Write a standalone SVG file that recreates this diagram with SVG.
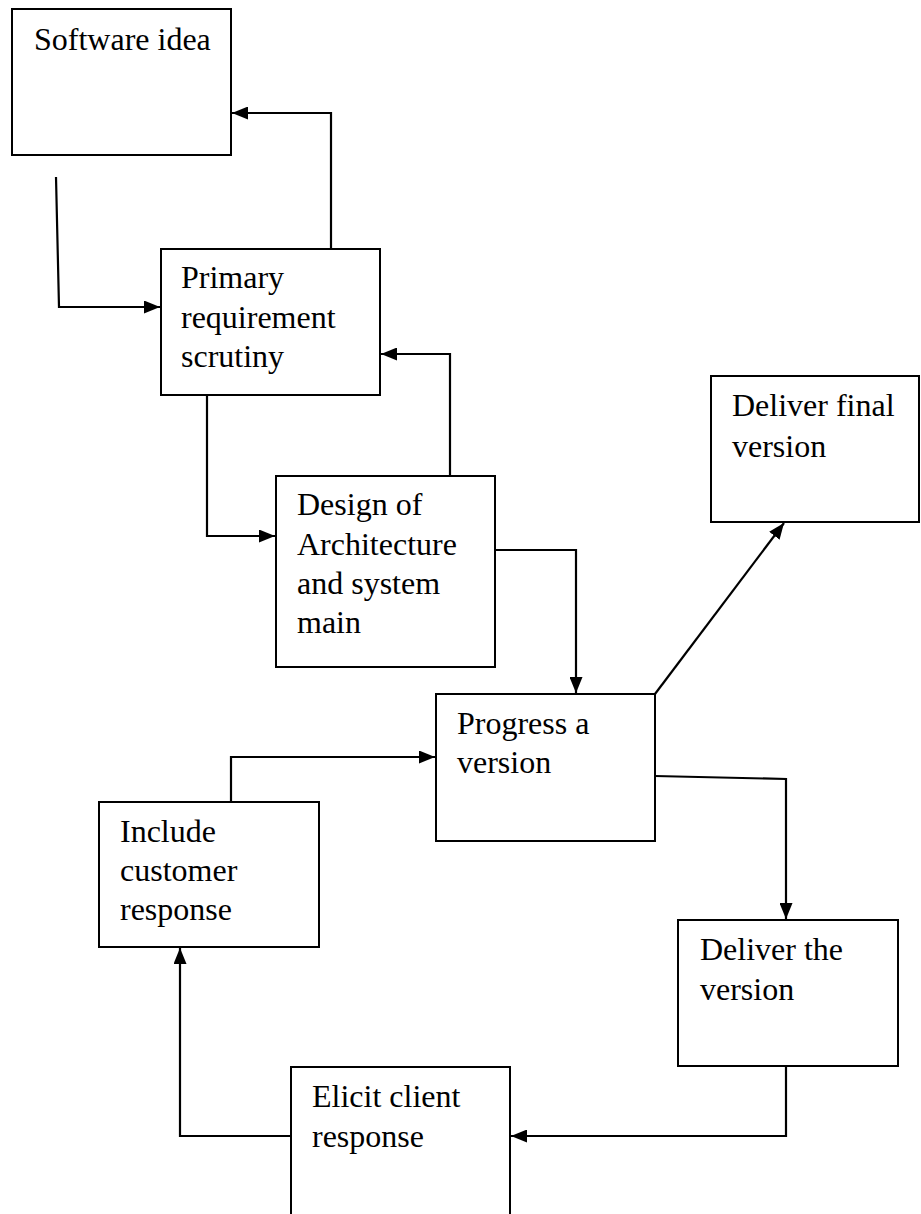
<svg xmlns="http://www.w3.org/2000/svg" width="921" height="1214" viewBox="0 0 921 1214">
<style>
.box{fill:#fff;stroke:#000;stroke-width:2}
.lbl{font-family:"Liberation Serif","Times New Roman",serif;font-size:32px;fill:#000}
.con{fill:none;stroke:#000;stroke-width:2.2}
</style>
<defs>
<marker id="ah" markerUnits="userSpaceOnUse" markerWidth="16" markerHeight="13" refX="16" refY="6.5" orient="auto">
<path d="M0,0 L16,6.5 L0,13 z" fill="#000"/>
</marker>
</defs>
<rect width="921" height="1214" fill="#fff"/>
<g id="n-software-idea">
<rect class="box" x="12" y="9" width="219" height="146"/>
<text class="lbl" x="34" y="50">Software idea</text>
</g>
<g id="n-primary">
<rect class="box" x="161" y="249" width="219" height="146"/>
<text class="lbl" x="181" y="288">Primary</text>
<text class="lbl" x="181" y="327.5">requirement</text>
<text class="lbl" x="181" y="367">scrutiny</text>
</g>
<g id="n-design">
<rect class="box" x="276" y="476" width="219" height="191"/>
<text class="lbl" x="297" y="515">Design of</text>
<text class="lbl" x="297" y="555">Architecture</text>
<text class="lbl" x="297" y="594">and system</text>
<text class="lbl" x="297" y="633">main</text>
</g>
<g id="n-deliver-final">
<rect class="box" x="711" y="376" width="208" height="146"/>
<text class="lbl" x="732" y="416">Deliver final</text>
<text class="lbl" x="732" y="457">version</text>
</g>
<g id="n-progress">
<rect class="box" x="436" y="694" width="219" height="147"/>
<text class="lbl" x="457" y="734">Progress a</text>
<text class="lbl" x="457" y="773">version</text>
</g>
<g id="n-include">
<rect class="box" x="99" y="802" width="220" height="145"/>
<text class="lbl" x="120" y="842">Include</text>
<text class="lbl" x="120" y="881">customer</text>
<text class="lbl" x="120" y="920">response</text>
</g>
<g id="n-deliver-the">
<rect class="box" x="678" y="920" width="220" height="146"/>
<text class="lbl" x="700" y="960">Deliver the</text>
<text class="lbl" x="700" y="1000">version</text>
</g>
<g id="n-elicit">
<rect class="box" x="291" y="1067" width="219" height="200"/>
<text class="lbl" x="312" y="1107">Elicit client</text>
<text class="lbl" x="312" y="1147">response</text>
</g>
<g id="connectors">
<path class="con" d="M331,249 V113 H232" marker-end="url(#ah)"/>
<path class="con" d="M56,177 L59,307 H160" marker-end="url(#ah)"/>
<path class="con" d="M450,476 V354 H381" marker-end="url(#ah)"/>
<path class="con" d="M207,395 V536 H275" marker-end="url(#ah)"/>
<path class="con" d="M495,550 H576 V693" marker-end="url(#ah)"/>
<path class="con" d="M655,694 L784,523" marker-end="url(#ah)"/>
<path class="con" d="M655,776 L786,779 V919" marker-end="url(#ah)"/>
<path class="con" d="M786,1066 V1136 H511" marker-end="url(#ah)"/>
<path class="con" d="M291,1136 H180 V948" marker-end="url(#ah)"/>
<path class="con" d="M231,802 V757 H435" marker-end="url(#ah)"/>
</g>
</svg>
